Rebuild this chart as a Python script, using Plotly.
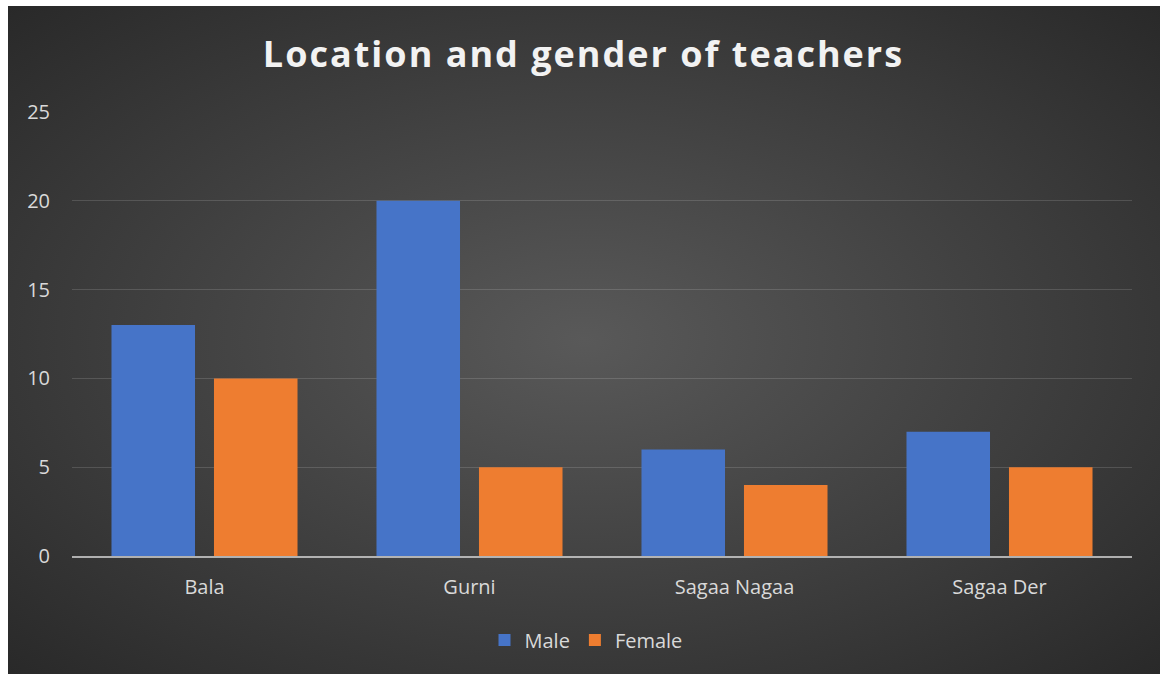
import base64
import plotly.graph_objects as go

categories = ["Bala", "Gurni", "Sagaa Nagaa", "Sagaa Der"]
male = [13, 20, 6, 7]
female = [10, 5, 4, 5]
y_ticks = [0, 5, 10, 15, 20, 25]

W, H = 1162, 674
ml, mr, mt, mb = 72, 30, 112, 118
pw, ph = W - ml - mr, H - mt - mb

svg = f'''<svg xmlns="http://www.w3.org/2000/svg" width="1152" height="668" viewBox="0 0 1152 668" preserveAspectRatio="none">
<defs><radialGradient id="g" cx="50%" cy="50%" r="75%" fx="50%" fy="50%">
<stop offset="0" stop-color="#595959"/><stop offset="1" stop-color="#262626"/></radialGradient></defs>
<rect width="1152" height="668" fill="url(#g)"/></svg>'''
src = "data:image/svg+xml;base64," + base64.b64encode(svg.encode()).decode()

x0, x1, y0, y1 = 8, 1160, 6, 674
img = dict(
    source=src, xref="paper", yref="paper",
    x=(x0 - ml) / pw, y=(H - mb - y0) / ph,
    sizex=(x1 - x0) / pw, sizey=(y1 - y0) / ph,
    xanchor="left", yanchor="top", sizing="stretch", layer="below",
)

fig = go.Figure()
fig.add_bar(x=categories, y=male, name="Male", marker=dict(color="#4674C8", line=dict(width=0)))
fig.add_bar(x=categories, y=female, name="Female", marker=dict(color="#EE7D30", line=dict(width=0)))

fig.update_layout(
    width=W, height=H,
    margin=dict(l=ml, r=mr, t=mt, b=mb),
    paper_bgcolor="white", plot_bgcolor="rgba(0,0,0,0)",
    images=[img],
    barmode="group", bargap=0.2264, bargroupgap=0.185,
    title=dict(
        text='<b><span style="letter-spacing:2px">Location and gender of teachers</span></b>',
        x=583.5 / W, xanchor="center", y=1 - 54 / H, yanchor="middle",
        font=dict(family="Open Sans", size=36, color="#f2f2f2"),
    ),
    font=dict(family="Open Sans", color="#d9d9d9", size=20),
    xaxis=dict(
        showgrid=False, showline=True, linecolor="rgba(217,217,217,0.75)", linewidth=2,
        ticks="", tickfont=dict(size=20, color="#d9d9d9"), ticklabelstandoff=12,
    ),
    yaxis=dict(
        range=[0, 25], tickvals=y_ticks, showgrid=True, gridcolor="rgba(255,255,255,0.14)",
        gridwidth=1, zeroline=False, showline=False, ticks="",
        tickfont=dict(size=20, color="#d9d9d9"), ticklabelstandoff=21,
    ),
    legend=dict(
        orientation="h", x=(586 - ml) / pw, xanchor="center",
        y=(H - mb - 640) / ph, yanchor="middle",
        font=dict(size=20, color="#d9d9d9"), bgcolor="rgba(0,0,0,0)", itemwidth=30,
    ),
)
fig.write_html("out.html", config={"displayModeBar": False},
               post_script="document.body.style.margin='0';")
